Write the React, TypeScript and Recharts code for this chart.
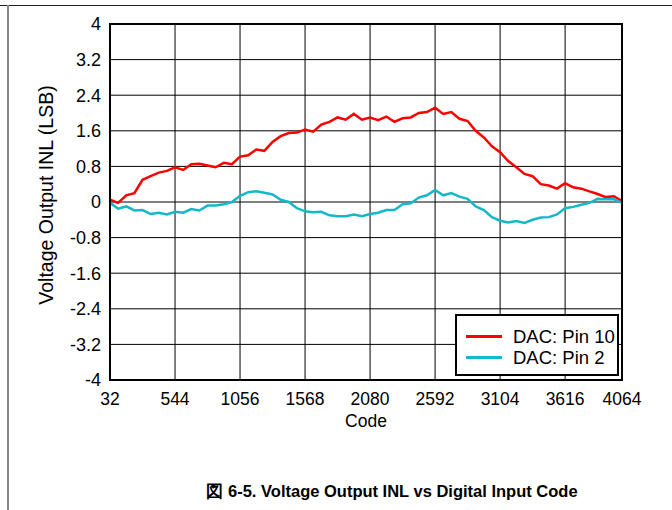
import React from "react"
import { LineChart, Line, XAxis, YAxis, CartesianGrid } from "recharts"

// codes sampled every 64 LSB
const codes = [
  32, 96, 160, 224, 288, 352, 416, 480, 544, 608, 672, 736, 800, 864, 928, 992,
  1056, 1120, 1184, 1248, 1312, 1376, 1440, 1504, 1568, 1632, 1696, 1760, 1824, 1888, 1952, 2016,
  2080, 2144, 2208, 2272, 2336, 2400, 2464, 2528, 2592, 2656, 2720, 2784, 2848, 2912, 2976, 3040,
  3104, 3168, 3232, 3296, 3360, 3424, 3488, 3552, 3616, 3680, 3744, 3808, 3872, 3936, 4000, 4064,
]

const pin10 = [
  0.05, -0.02, 0.15, 0.2, 0.5, 0.58, 0.66, 0.7, 0.78, 0.72, 0.85, 0.86, 0.82, 0.78, 0.88, 0.85,
  1.02, 1.05, 1.18, 1.15, 1.35, 1.48, 1.55, 1.56, 1.63, 1.58, 1.74, 1.8, 1.9, 1.85, 1.98, 1.85,
  1.9, 1.84, 1.92, 1.8, 1.88, 1.9, 2.0, 2.02, 2.12, 1.98, 2.02, 1.87, 1.82, 1.6, 1.45, 1.25,
  1.12, 0.92, 0.78, 0.63, 0.58, 0.4, 0.37, 0.3, 0.42, 0.33, 0.3, 0.24, 0.18, 0.11, 0.13, 0.02,
]

const pin2 = [
  -0.02, -0.15, -0.1, -0.19, -0.18, -0.27, -0.24, -0.28, -0.22, -0.24, -0.16, -0.19, -0.08, -0.08, -0.05, 0.0,
  0.14, 0.22, 0.24, 0.21, 0.17, 0.05, 0.0, -0.14, -0.21, -0.23, -0.22, -0.3, -0.32, -0.32, -0.28, -0.32,
  -0.27, -0.24, -0.18, -0.18, -0.05, -0.03, 0.1, 0.15, 0.27, 0.15, 0.2, 0.12, 0.07, -0.1, -0.18, -0.34,
  -0.42, -0.46, -0.43, -0.47, -0.4, -0.35, -0.34, -0.28, -0.14, -0.11, -0.06, -0.02, 0.07, 0.06, 0.06, -0.02,
]

const xTicks = [32, 544, 1056, 1568, 2080, 2592, 3104, 3616, 4064]
const yTicks = [-4, -3.2, -2.4, -1.6, -0.8, 0, 0.8, 1.6, 2.4, 3.2, 4]

const series = [
  { key: "pin10", name: "DAC: Pin 10", color: "#ff0000" },
  { key: "pin2", name: "DAC: Pin 2", color: "#14b8c8" },
]

const data = codes.map((code, i) => ({ code, pin10: pin10[i], pin2: pin2[i] }))

const font = "Arial, 'Liberation Sans', sans-serif"

export default function App() {
  return (
    <div style={{ position: "relative", width: 672, height: 510, background: "#fff", fontFamily: font }}>
      <style>{`body{margin:0}`}</style>
      <div style={{ position: "absolute", left: 0, top: 5, width: 672, height: 1, background: "#222" }} />
      <div style={{ position: "absolute", left: 7, top: 5, width: 2, height: 505, background: "#888" }} />
      <LineChart width={672} height={510} data={data} margin={{ top: 24, right: 50, left: 0, bottom: 0 }}>
        <CartesianGrid stroke="#000" strokeWidth={1} />
        <XAxis
          dataKey="code"
          type="number"
          domain={[32, 4064]}
          ticks={xTicks}
          interval={0}
          height={130}
          axisLine={{ stroke: "#000", strokeWidth: 2 }}
          tickLine={false}
          tickSize={0}
          tickMargin={13}
          tick={{ fill: "#000", fontSize: 17.5, fontFamily: font }}
        />
        <YAxis
          type="number"
          domain={[-4, 4]}
          ticks={yTicks}
          interval={0}
          width={110}
          axisLine={{ stroke: "#000", strokeWidth: 2 }}
          tickLine={false}
          tickSize={0}
          tickMargin={9}
          tick={{ fill: "#000", fontSize: 18, fontFamily: font }}
        />
        {series.map((s) => (
          <Line
            key={s.key}
            type="linear"
            dataKey={s.key}
            name={s.name}
            stroke={s.color}
            strokeWidth={2.5}
            dot={false}
            isAnimationActive={false}
          />
        ))}
      </LineChart>
      <div
        style={{
          position: "absolute",
          left: 109,
          top: 23,
          width: 510,
          height: 354,
          border: "2px solid #000",
          pointerEvents: "none",
        }}
      />
      <div
        style={{
          position: "absolute",
          left: 455,
          top: 314,
          width: 164,
          height: 62,
          border: "2px solid #000",
          background: "#fff",
          fontSize: 18.5,
          paddingTop: 10,
          boxSizing: "border-box",
        }}
      >
        {series.map((s) => (
          <div key={s.key} style={{ display: "flex", alignItems: "center", height: 21, paddingLeft: 9 }}>
            <span style={{ width: 36, height: 3, background: s.color, marginRight: 11 }} />
            <span>{s.name}</span>
          </div>
        ))}
      </div>
      <div
        style={{
          position: "absolute",
          left: 46,
          top: 195,
          transform: "translate(-50%, -50%) rotate(-90deg)",
          whiteSpace: "nowrap",
          fontSize: 19.5,
        }}
      >
        Voltage Output INL (LSB)
      </div>
      <div style={{ position: "absolute", left: 366, top: 421, transform: "translate(-50%, -50%)", fontSize: 17.5 }}>
        Code
      </div>
      <div
        style={{
          position: "absolute",
          left: 392,
          top: 492,
          transform: "translate(-50%, -50%)",
          whiteSpace: "nowrap",
          fontSize: 16.5,
          fontWeight: "bold",
        }}
      >
        図 6-5. Voltage Output INL vs Digital Input Code
      </div>
    </div>
  )
}
